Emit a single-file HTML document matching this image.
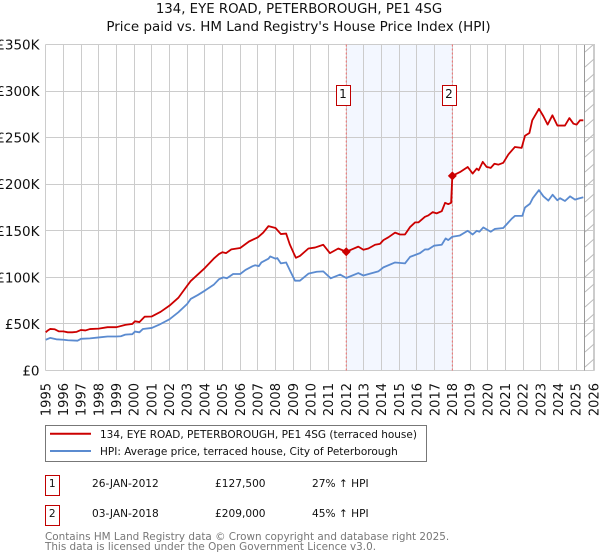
<!DOCTYPE html>
<html lang="en">
<head>
<meta charset="utf-8">
<title>134, EYE ROAD, PETERBOROUGH, PE1 4SG</title>
<style>
html,body{margin:0;padding:0;background:#fff;}
svg{display:block;}
text{font-family:"DejaVu Sans","Liberation Sans",sans-serif;fill:#111;}
</style>
</head>
<body>
<svg id="chart" xmlns="http://www.w3.org/2000/svg" width="600" height="560" viewBox="0 0 600 560">
  <defs>
    <pattern id="hatch" patternUnits="userSpaceOnUse" x="585" y="44" width="10" height="15">
      <line x1="0" y1="8" x2="9" y2="0" stroke="#bbb" stroke-width="1"/>
    </pattern>
  </defs>
  <rect x="0" y="0" width="600" height="560" fill="#fff"/>
  <text x="299" y="13" font-size="13.3" text-anchor="middle">134, EYE ROAD, PETERBOROUGH, PE1 4SG</text>
  <text x="298.5" y="31" font-size="13.45" text-anchor="middle">Price paid vs. HM Land Registry's House Price Index (HPI)</text>
  <g id="plot"></g>

  <g>
    <rect x="45.5" y="425.5" width="381" height="36" fill="#fff" stroke="#777" stroke-width="1"/>
    <line x1="50" y1="433.7" x2="91" y2="433.7" stroke="#cc0000" stroke-width="2"/>
    <text x="100" y="438" font-size="10.5">134, EYE ROAD, PETERBOROUGH, PE1 4SG (terraced house)</text>
    <line x1="50" y1="451" x2="91" y2="451" stroke="#5b8bd0" stroke-width="2"/>
    <text x="100" y="455" font-size="10.5">HPI: Average price, terraced house, City of Peterborough</text>
  </g>

  <g>
    <rect x="45.5" y="475.5" width="14" height="20" fill="#fff" stroke="#c00000" stroke-width="1"/>
    <text x="52.3" y="487" font-size="10.6" text-anchor="middle">1</text>
    <text x="92" y="487" font-size="10.6">26-JAN-2012</text>
    <text x="215" y="487" font-size="10.6">£127,500</text>
    <text x="312" y="487" font-size="10.6">27% ↑ HPI</text>
    <rect x="45.5" y="505.5" width="14" height="20" fill="#fff" stroke="#c00000" stroke-width="1"/>
    <text x="52.3" y="517" font-size="10.6" text-anchor="middle">2</text>
    <text x="92" y="517" font-size="10.6">03-JAN-2018</text>
    <text x="215" y="517" font-size="10.6">£209,000</text>
    <text x="312" y="517" font-size="10.6">45% ↑ HPI</text>
  </g>

  <text x="45" y="540" font-size="10.4" style="fill:#777">Contains HM Land Registry data © Crown copyright and database right 2025.</text>
  <text x="45" y="550" font-size="10.4" style="fill:#777">This data is licensed under the Open Government Licence v3.0.</text>
</svg>
<script>
const yearTicks = [1995,1996,1997,1998,1999,2000,2001,2002,2003,2004,2005,2006,2007,2008,2009,2010,2011,2012,2013,2014,2015,2016,2017,2018,2019,2020,2021,2022,2023,2024,2025,2026];
const priceTicks = [0,50,100,150,200,250,300,350];
const priceTickLabels = ['£0','£50K','£100K','£150K','£200K','£250K','£300K','£350K'];

const priceDates = [1995,1995.12,1995.25,1995.5,1995.75,1996,1996.25,1996.5,1996.75,1997,1997.25,1997.5,1998,1998.5,1999,1999.5,1999.9,2000.05,2000.3,2000.6,2001,2001.5,2002,2002.5,2003,2003.2,2003.6,2004,2004.5,2004.8,2005,2005.2,2005.5,2006,2006.5,2007,2007.3,2007.6,2008,2008.3,2008.6,2008.8,2009.05,2009.15,2009.38,2009.86,2010.23,2010.7,2011.08,2011.55,2012,2012.31,2012.68,2012.97,2013.25,2013.63,2013.91,2014.1,2014.38,2014.76,2015.04,2015.32,2015.61,2015.89,2016.08,2016.45,2016.64,2016.89,2017.11,2017.4,2017.59,2017.77,2017.93,2018,2018.43,2018.87,2019.15,2019.38,2019.49,2019.72,2019.94,2020.17,2020.38,2020.6,2020.88,2021.17,2021.54,2021.92,2022.11,2022.36,2022.52,2022.9,2023.15,2023.39,2023.66,2023.94,2024.37,2024.62,2024.85,2025.03,2025.22,2025.41];
const priceValues = [41,43,44.6,44.3,42,42,41,41,41.5,43.5,43,44.5,45,46.5,46.5,49,50,52.8,52,57.8,58,63,69.6,78,91,96,103,110,120,125,127,126,130,131.5,138.5,143,148,155,153,146.5,147,135.7,125,121,123,131,132,135,126,131,127.5,130,133,129.6,131,135,136,140,143,148,146,146,154,159,159,165,166.5,170,168.7,171,180,178.6,180,209,213,218.5,211.4,216.8,215,224,218.6,217.5,222,221,223,232,240,239,252,255,268.6,281,273,264,274,263,263,271,265,264,268.6,268.6];

const hpiDates = [1995,1995.25,1995.6,1996,1996.25,1996.8,1997,1997.5,1998,1998.5,1999,1999.25,1999.5,1999.9,2000.05,2000.3,2000.5,2001,2001.4,2002,2002.5,2003,2003.2,2003.6,2004,2004.5,2004.8,2005.05,2005.25,2005.6,2006,2006.3,2006.7,2006.85,2007.05,2007.2,2007.6,2007.7,2008,2008.1,2008.3,2008.6,2008.85,2009.1,2009.38,2009.86,2010.33,2010.7,2011.12,2011.65,2012,2012.68,2012.97,2013.81,2014.1,2014.76,2015.32,2015.61,2016.17,2016.45,2016.64,2016.96,2017.4,2017.62,2017.77,2018,2018.43,2018.87,2019.15,2019.38,2019.53,2019.75,2020.17,2020.41,2020.88,2021.17,2021.36,2021.54,2021.96,2022.11,2022.39,2022.55,2022.9,2023.15,2023.43,2023.67,2023.94,2024.09,2024.37,2024.66,2024.94,2025.12,2025.41];
const hpiValues = [33,35,33.5,33,32.5,32,34,34.5,35.5,36.5,36.5,36.8,38.5,39,41.8,41,44.6,45.7,49,55,62.5,71.4,76.8,81,85.7,92,98,100,99,103.6,103.6,108,112,113,112,116,120,122.5,120,120.7,115,116,106,96.4,96.4,104,106,106.4,99,103,99.3,104.6,102,106.4,110.7,116,115,122,126,130,130,134,135,141.8,140,143.6,145,150,146,150,149,153.6,149,152,153,159,163,166,166,175,179,185,193.7,187,182.4,188.7,182.7,185,182,187,183.5,184.5,186];

const saleDates = [2012,2018];
const saleValues = [127.5,209];
const saleLabels = ['1','2'];
const forecastStart = 2025.5;

const NS = 'http://www.w3.org/2000/svg';
const plot = document.getElementById('plot');
const plotLeft = 45.7, pxPerYear = 17.68, plotBottom = 370.5, pxPerK = 0.9314;
const plotTop = 44.5, plotRight = 594.5;

function xScale(year){ return plotLeft + (year - 1995) * pxPerYear; }
function yScale(k){ return plotBottom - k * pxPerK; }
function crisp(v){ return Math.floor(v) + 0.5; }
function make(tag, attrs){
  const el = document.createElementNS(NS, tag);
  for (const k in attrs) el.setAttribute(k, attrs[k]);
  plot.appendChild(el);
  return el;
}
function seriesPath(dates, values){
  return dates.map((d, i) => (i ? 'L' : 'M') + xScale(d).toFixed(2) + ' ' + yScale(values[i]).toFixed(2)).join(' ');
}

const shade = make('rect', {x: xScale(saleDates[0]), y: plotTop, width: xScale(saleDates[1]) - xScale(saleDates[0]), height: plotBottom - plotTop, fill: '#f3f7ff'});



yearTicks.forEach(function(year){
  const grid = make('line', {x1: crisp(xScale(year)), x2: crisp(xScale(year)), y1: plotTop, y2: plotBottom, stroke: '#ccc', 'stroke-width': 1});
  
  
  const lx = xScale(year) + 4.6;
  const label = make('text', {x: lx, y: 383, 'font-size': 13, 'text-anchor': 'end', transform: 'rotate(-90 ' + lx + ' 383)'});
  label.textContent = year;
  
  
});

priceTicks.forEach(function(k, i){
  const grid = make('line', {x1: plotLeft - 0.2, x2: plotRight, y1: crisp(yScale(k)), y2: crisp(yScale(k)), stroke: '#ccc', 'stroke-width': 1});
  
  
  const label = make('text', {x: 39.5, y: yScale(k) + 5, 'font-size': 13.5, 'text-anchor': 'end'});
  label.textContent = priceTickLabels[i];
  
  
});

const hatch = make('rect', {x: xScale(forecastStart), y: plotTop, width: plotRight - xScale(forecastStart), height: plotBottom - plotTop, fill: 'url(#hatch)'});


const edge = make('line', {x1: crisp(xScale(forecastStart)), x2: crisp(xScale(forecastStart)), y1: plotTop, y2: plotBottom, stroke: '#999', 'stroke-width': 1});


const border = make('path', {d: 'M45.5 44.5H' + plotRight + 'V' + plotBottom, fill: 'none', stroke: '#ccc', 'stroke-width': 1});



saleDates.forEach(function(d, i){
  const dash = make('line', {x1: xScale(d), x2: xScale(d), y1: plotTop, y2: plotBottom, stroke: '#f26a6a', 'stroke-width': 1, 'stroke-dasharray': '2 2'});
  
  
});

const hpiLine = make('path', {d: seriesPath(hpiDates, hpiValues), fill: 'none', stroke: '#5b8bd0', 'stroke-width': 1.8, 'stroke-linejoin': 'round'});


const priceLine = make('path', {d: seriesPath(priceDates, priceValues), fill: 'none', stroke: '#cc0000', 'stroke-width': 1.8, 'stroke-linejoin': 'round'});



saleDates.forEach(function(d, i){
  const cx = xScale(d), cy = yScale(saleValues[i]), r = 4.5;
  const dot = make('polygon', {points: [cx, cy - r, cx + r, cy, cx, cy + r, cx - r, cy].join(','), fill: '#cc0000'});
  
  
  const badge = make('rect', {x: Math.floor(cx) - 10 + 0.5, y: 85.5, width: 14, height: 20, fill: '#fff', stroke: '#c00000', 'stroke-width': 1});
  
  
  const label = make('text', {x: Math.floor(cx) - 3, y: 98, 'font-size': 12, 'text-anchor': 'middle'});
  label.textContent = saleLabels[i];
  
  
});
</script>
</body>
</html>
